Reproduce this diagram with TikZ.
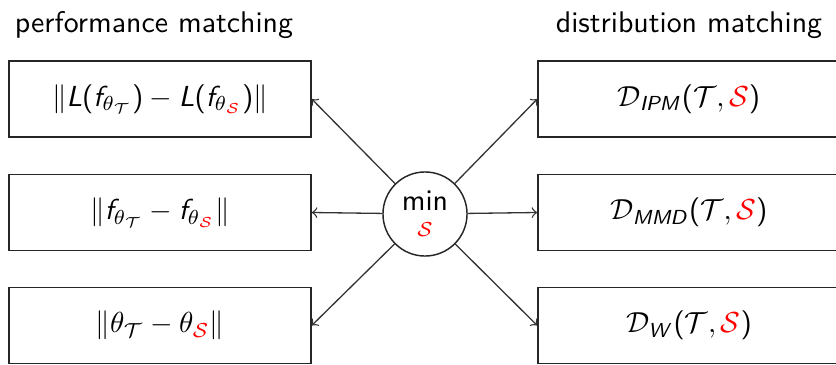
\documentclass[tikz,border=0pt]{standalone}
\usepackage{amsmath}
% sans-serif math in the style of beamer: upright operators/parentheses and
% slanted letters come from Computer Modern Sans
\DeclareSymbolFont{operators}{OT1}{cmss}{m}{n}
\DeclareMathAlphabet{\mathsl}{OT1}{cmss}{m}{sl}
\newcommand{\Tset}{\mathcal{T}}
\newcommand{\Sset}{{\color{red}\mathcal{S}}}
\tikzset{
  every picture/.style={font=\fontsize{10.3}{12.4}\sffamily\selectfont},
  methodbox/.style={draw=black!85, line width=0.5pt, rectangle, inner sep=0pt,
    minimum width=104.2pt, minimum height=26.2pt},
  hub/.style={draw=black!85, line width=0.5pt, circle, inner sep=0pt,
    minimum size=29pt, fill=white},
  link/.style={draw=black!80, line width=0.45pt, ->, >=to},
  heading/.style={anchor=base, inner sep=0pt}
}
\begin{document}
\begin{tikzpicture}[x=0.345pt, y=-0.345pt]
  \useasboundingbox (0,0) rectangle (836,364);
  % column headings
  \node[heading] (hl) at (154,33) {performance matching};
  \node[heading] (hr) at (689,33) {distribution matching};
  % performance-matching objectives
  \node[methodbox] (l1) at (160,99)    {$\|\mathsl{L}(\mathsl{f}_{\theta_{\Tset}}) - \mathsl{L}(\mathsl{f}_{\theta_{\Sset}})\|$};
  \node[methodbox] (l2) at (160,212.5) {$\|\mathsl{f}_{\theta_{\Tset}} - \mathsl{f}_{\theta_{\Sset}}\|$};
  \node[methodbox] (l3) at (160,325.5) {$\|\theta_{\Tset} - \theta_{\Sset}\|$};
  % distribution-matching objectives
  \node[methodbox] (r1) at (689,99)    {$\mathcal{D}_{\mathsl{IPM}}(\Tset,\Sset)$};
  \node[methodbox] (r2) at (689,212.5) {$\mathcal{D}_{\mathsl{MMD}}(\Tset,\Sset)$};
  \node[methodbox] (r3) at (689,325.5) {$\mathcal{D}_{\mathsl{W}}(\Tset,\Sset)$};
  % central optimisation node: "min" with the red set below it
  \node[hub, align=center] (m) at (425,214)
    {min\\[-3.5pt]$\scriptstyle\Sset$};
  % connectors
  \draw[link] (m) -- (l1.east);
  \draw[link] (m) -- (l2.east);
  \draw[link] (m) -- (l3.east);
  \draw[link] (m) -- (r1.west);
  \draw[link] (m) -- (r2.west);
  \draw[link] (m) -- (r3.west);
\end{tikzpicture}
\end{document}
